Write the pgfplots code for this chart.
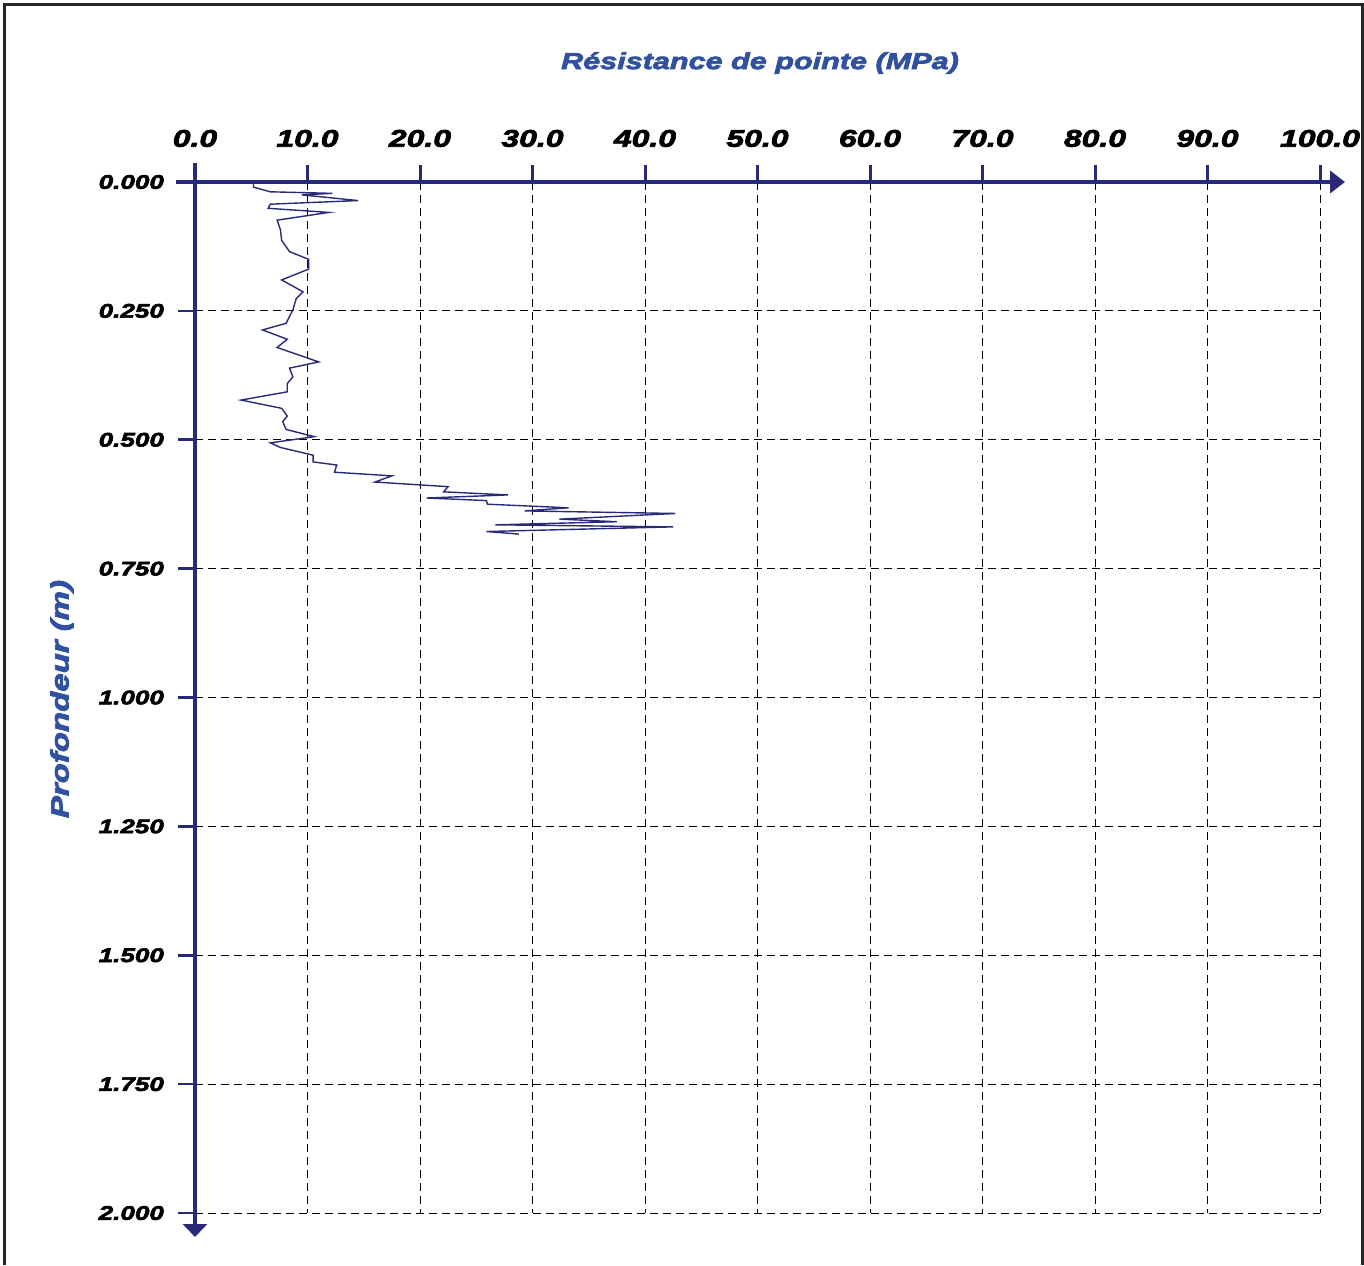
\documentclass[border=0pt]{standalone}
\usepackage{fontspec}
\usepackage{pgfplots}
\pgfplotsset{compat=1.18}
\usetikzlibrary{arrows.meta}
\setmainfont{Liberation Sans}
\newfontfamily\heavyfont{Liberation Sans Bold Italic}[FakeStretch=1.33, FakeBold=3.2]
\definecolor{navy}{RGB}{40,42,120}
\definecolor{titleblue}{RGB}{48,80,160}
\begin{document}
\begin{tikzpicture}
\useasboundingbox (-97.5pt,-26pt) rectangle (584.5pt,606.5pt);
\begin{axis}[
  name=ax, at={(0,0)}, anchor=south west,
  scale only axis, width=562.5pt, height=515.5pt,
  xmin=0, xmax=100, ymin=0, ymax=2, y dir=reverse,
  xtick={0,10,20,30,40,50,60,70,80,90,100},
  ytick={0,0.25,0.5,0.75,1,1.25,1.5,1.75,2},
  axis line style={draw=none},
  tick align=outside, xtick pos=right, xticklabel pos=right, ytick pos=left,
  major tick length=8.5pt,
  every tick/.style={navy, line width=1.3pt},
  x tick style={draw=none},
  grid=major,
  major grid style={black, line width=0.5pt, dash pattern=on 4pt off 2.5pt},
  clip=false,
  x tick label style={font=\heavyfont\fontsize{12}{14}\selectfont, yshift=5.5pt, /pgf/number format/.cd, fixed, fixed zerofill, precision=1, assume math mode=true},
  y tick label style={font=\heavyfont\fontsize{9.8}{11}\selectfont, xshift=-3.5pt, /pgf/number format/.cd, fixed, fixed zerofill, precision=3, assume math mode=true},
]
\addplot[navy, line width=0.7pt] coordinates {
(5.2,0.000) (5.2,0.010) (6.7,0.019) (12.2,0.022) (9.5,0.025) (14.5,0.036)
(6.7,0.043) (6.5,0.051) (11.9,0.059) (7.3,0.074) (7.6,0.093) (7.7,0.113)
(8.4,0.135) (10.1,0.150) (10.1,0.169) (7.7,0.190) (9.6,0.213) (9.0,0.226)
(8.7,0.248) (8.1,0.274) (6.0,0.287) (8.2,0.305) (7.3,0.321) (11.0,0.349)
(8.4,0.361) (8.7,0.378) (8.2,0.391) (8.2,0.407) (4.1,0.423) (7.7,0.439)
(8.2,0.454) (7.8,0.465) (8.1,0.480) (10.6,0.494) (6.7,0.506) (7.6,0.515)
(10.5,0.530) (10.5,0.543) (12.6,0.549) (12.4,0.563) (17.5,0.570) (16.0,0.582)
(22.5,0.591) (22.1,0.601) (27.8,0.607) (20.6,0.613) (25.9,0.618) (26.0,0.625)
(33.2,0.632) (29.3,0.638) (42.7,0.643) (32.4,0.654) (37.5,0.659) (26.7,0.665)
(42.5,0.669) (25.9,0.678) (28.8,0.683)
};
\end{axis}
% axis lines
\draw[navy, line width=2pt, -{Triangle[length=7.5pt,width=11pt]}] (-9.5pt,515.5pt) -- (575pt,515.5pt);
\draw[navy, line width=2pt, -{Triangle[length=6.5pt,width=12pt]}] (0pt,525pt) -- (0pt,-12pt);
% titles
\node[titleblue, font=\heavyfont\fontsize{11.5}{13}\selectfont] at (282.5pt,575pt) {Résistance de pointe (MPa)};
\node[titleblue, rotate=90, font=\heavyfont\fontsize{12.4}{14}\selectfont] at (-66.5pt,257pt) {Profondeur (m)};
% frame
\draw[line width=1.5pt, black!85] (-95pt,-26pt) -- (-95pt,604pt) -- (583.5pt,604pt) -- (583.5pt,-26pt);
% x ticks (top, outward)
\foreach \tx in {56.25,112.5,168.75,225,281.25,337.5,393.75,450,506.25,562.5} {
  \draw[navy, line width=1.5pt] (\tx pt,515pt) -- (\tx pt,524pt);
}
\end{tikzpicture}
\end{document}
